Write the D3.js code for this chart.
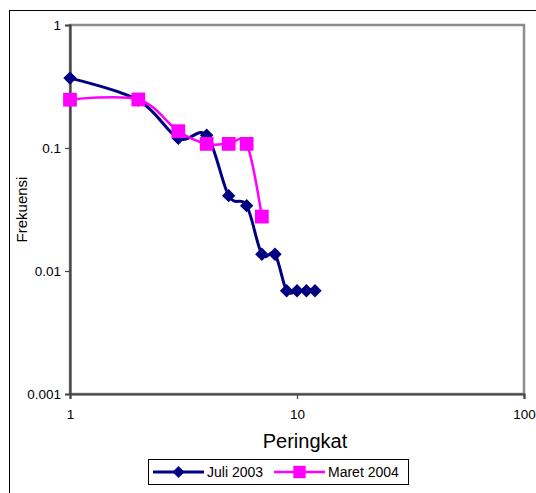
<!DOCTYPE html>
<html lang="en">
<head>
  <meta charset="UTF-8">
  <title>Frekuensi vs Peringkat</title>
  <script src="https://d3js.org/d3.v7.min.js"></script>
  <style>
    body {
      margin: 0;
      background: white;
      font-family: Arial, 'Liberation Sans', sans-serif;
    }
    svg text {
      fill: #000;
    }
    .tick text {
      font-size: 13.5px;
    }
  </style>
</head>
<body>
  <svg width="536" height="493"></svg>

  <script>
    // data
    let ranksJuli = [1, 2, 3, 4, 5, 6, 7, 8, 9, 10, 11, 12];
    let juli2003 = [0.37, 0.245, 0.12, 0.127, 0.041, 0.034, 0.0137, 0.0137, 0.0069, 0.0069, 0.0069, 0.0069];
    let ranksMaret = [1, 2, 3, 4, 5, 6, 7];
    let maret2004 = [0.247, 0.248, 0.137, 0.108, 0.108, 0.108, 0.0277];
    let xTicks = [1, 10, 100];
    let yTicks = [0.001, 0.01, 0.1, 1];

    let svg = d3.select('svg');

    let plotLeft = 70, plotRight = 524, plotTop = 25, plotBottom = 394;

    let x = d3.scaleLog().domain([1, 100]).range([plotLeft, plotRight]);
    let y = d3.scaleLog().domain([0.001, 1]).range([plotBottom, plotTop]);

    // outer chart frame
    svg.append('rect')
      .attr('x', 9.5).attr('y', 10.5)
      .attr('width', 560).attr('height', 500)
      .attr('fill', 'none')
      .attr('stroke', '#000')
      .attr('stroke-width', 1);

    // plot area border (gray top/right)
    svg.append('rect')
      .attr('x', plotLeft).attr('y', plotTop)
      .attr('width', plotRight - plotLeft).attr('height', plotBottom - plotTop)
      .attr('fill', 'white')
      .attr('stroke', '#8c8c8c')
      .attr('stroke-width', 2.5);

    let xAxis = svg.append('g')
      .attr('transform', `translate(0,${plotBottom})`)
      .call(d3.axisBottom(x).tickValues(xTicks).tickFormat(d3.format('d')).tickSize(5).tickPadding(10));

    let yAxis = svg.append('g')
      .attr('transform', `translate(${plotLeft},0)`)
      .call(d3.axisLeft(y).tickValues(yTicks).tickFormat(d => String(d)).tickSize(5).tickPadding(4));

    [xAxis, yAxis].forEach(a => {
      a.select('.domain').attr('stroke', '#444').attr('stroke-width', 2.2);
      a.selectAll('.tick line').attr('stroke', '#444').attr('stroke-width', 1.2);
      a.selectAll('.tick text').style('font-family', 'Arial, "Liberation Sans", sans-serif');
    });

    // axis titles
    svg.append('text')
      .attr('x', 305).attr('y', 448)
      .attr('text-anchor', 'middle')
      .style('font-size', '20px')
      .text('Peringkat');

    svg.append('text')
      .attr('transform', `translate(27,${(plotTop + plotBottom) / 2}) rotate(-90)`)
      .attr('text-anchor', 'middle')
      .style('font-size', '15px')
      .text('Frekuensi');

    let curve = d3.curveCatmullRom.alpha(0);

    // diamond = square turned 45 degrees
    let series = [
      { name: 'Juli 2003', ranks: ranksJuli, values: juli2003, color: '#000080', size: 90, rot: 45, width: 3 },
      { name: 'Maret 2004', ranks: ranksMaret, values: maret2004, color: '#ff00ff', size: 190, rot: 0, width: 2.5 }
    ];

    series.forEach(s => {
      let pts = s.ranks.map((r, i) => [r, s.values[i]]);
      let line = d3.line().x(d => x(d[0])).y(d => y(d[1])).curve(curve);

      svg.append('path')
        .datum(pts)
        .attr('d', line)
        .attr('fill', 'none')
        .attr('stroke', s.color)
        .attr('stroke-width', s.width);

      svg.selectAll(null)
        .data(pts)
        .enter().append('path')
        .attr('transform', d => `translate(${x(d[0])},${y(d[1])}) rotate(${s.rot})`)
        .attr('d', d3.symbol().type(d3.symbolSquare).size(s.size))
        .attr('fill', s.color);
    });

    // legend
    let legend = svg.append('g');
    legend.append('rect')
      .attr('x', 148.5).attr('y', 459.5)
      .attr('width', 260).attr('height', 25)
      .attr('fill', 'white')
      .attr('stroke', '#000')
      .attr('stroke-width', 1);

    let legendX = [153, 274];
    series.forEach((s, i) => {
      let lx = legendX[i];
      legend.append('line')
        .attr('x1', lx).attr('x2', lx + 51)
        .attr('y1', 472).attr('y2', 472)
        .attr('stroke', s.color)
        .attr('stroke-width', s.width);
      legend.append('path')
        .attr('transform', `translate(${lx + 25.5},472) rotate(${s.rot})`)
        .attr('d', d3.symbol().type(d3.symbolSquare).size(s.size * 0.8))
        .attr('fill', s.color);
      legend.append('text')
        .attr('x', lx + 54).attr('y', 477)
        .style('font-size', '14px')
        .text(s.name);
    });
  </script>
</body>
</html>
